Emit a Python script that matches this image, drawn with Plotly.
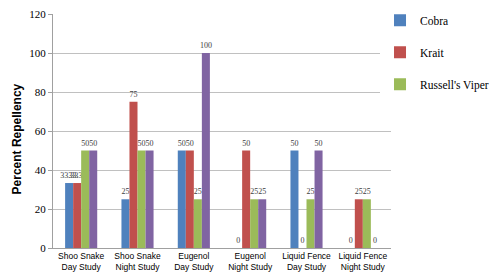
import plotly.graph_objects as go

categories = ["Shoo Snake<br>Day Study", "Shoo Snake<br>Night Study", "Eugenol<br>Day Study",
              "Eugenol<br>Night Study", "Liquid Fence<br>Day Study", "Liquid Fence<br>Night Study"]
cobra = [33.33, 25, 50, 0, 50, 0]
krait = [33.33, 75, 50, 50, 0, 25]
viper = [50, 50, 25, 25, 25, 25]
fourth = [50, 50, 100, 25, 50, 0]
y_title = "Percent Repellency"

series = [
    ("Cobra", cobra, "#4F81BD", True),
    ("Krait", krait, "#C0504D", True),
    ("Russell's Viper", viper, "#9BBB59", True),
    ("Series 4", fourth, "#8064A2", False),
]

label_font = dict(family="Liberation Serif", size=8, color="#404040")

fig = go.Figure()
for i, (name, vals, color, show) in enumerate(series):
    fig.add_trace(go.Bar(
        x=categories, y=vals, name=name, marker_color=color,
        marker_line_width=0, showlegend=show, legendgroup=f"g{i}",
        text=[f"{v:g}" for v in vals], textposition="outside",
        textfont=label_font, outsidetextfont=label_font, insidetextfont=label_font,
        cliponaxis=False,
    ))

# page body has an 8px margin, so the figure is sized/offset to compensate
fig.update_layout(
    width=492, height=270,
    margin=dict(l=45, r=109, t=6, b=30, autoexpand=False),
    plot_bgcolor="white", paper_bgcolor="white",
    barmode="group", bargap=0.43, bargroupgap=0,
    uniformtext=dict(minsize=8, mode="show"),
    legend=dict(x=0.9675, y=1.035, xanchor="left", yanchor="top",
                font=dict(family="Liberation Serif", size=11.5, color="#000"),
                tracegroupgap=13, itemwidth=30),
    yaxis=dict(range=[0, 120.05], tickvals=[0, 20, 40, 60, 80, 100, 120],
               showgrid=True, gridcolor="#C0C0C0",
               showline=True, linecolor="#A0A0A0", ticks="outside", ticklen=4,
               tickcolor="#A0A0A0", automargin=False, ticklabeloverflow="allow",
               tickfont=dict(family="Liberation Serif", size=11, color="#000")),
    xaxis=dict(showline=True, linecolor="#A0A0A0", ticks="", tickangle=0,
               automargin=False,
               tickfont=dict(family="Liberation Sans", size=8.5, color="#000")),
    annotations=[dict(text=f"<b>{y_title}</b>", textangle=-90, showarrow=False,
                      xref="paper", yref="paper", x=-0.108, y=0.466,
                      xanchor="center", yanchor="middle",
                      font=dict(family="Liberation Sans", size=12, color="#000"))],
)

fig.write_html("out.html")
